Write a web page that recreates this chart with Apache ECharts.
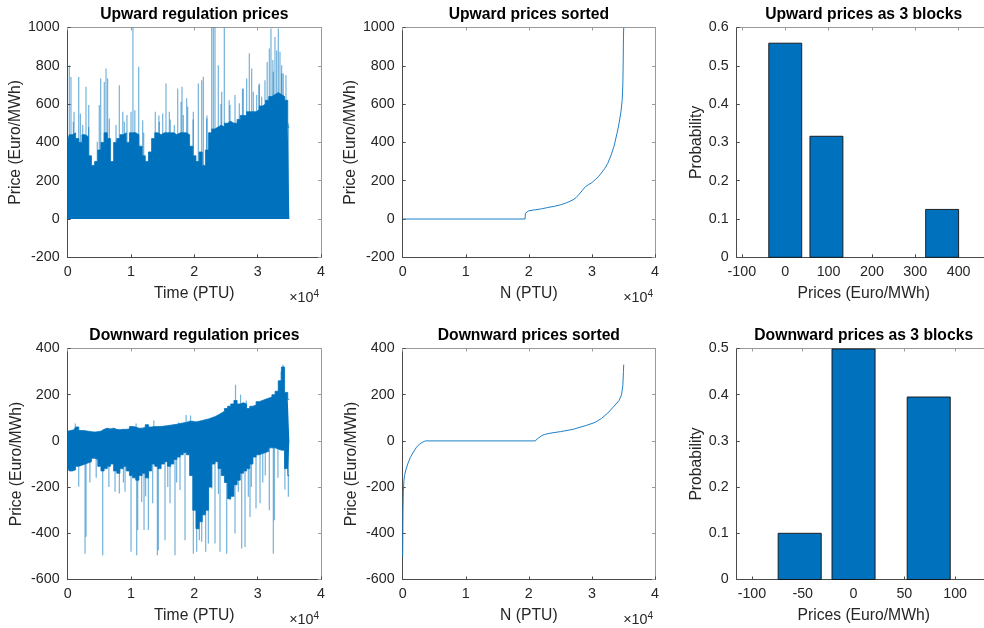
<!DOCTYPE html>
<html>
<head>
<meta charset="utf-8">
<script src="https://cdn.jsdelivr.net/npm/echarts@6/dist/echarts.min.js"></script>
<style>
  html, body { margin: 0; padding: 0; background: #fff; overflow: hidden; }
  #chart { width: 984px; height: 628px; }
</style>
</head>
<body>
<div id="chart"></div>
<script>
// ---------- data ----------
// Dense price series are summarised per 500-PTU bin: the solid band that the
// bulk of the quarter-hour prices fill, plus the isolated spikes above/below it.
const BIN = 500;

// Upward regulation prices (Euro/MWh): top of the dense band per bin
const upBandTop = [410, 440, 450, 420, 400, 440, 430, 330, 280, 300,
                   360, 400, 450, 420, 300, 400, 420, 440, 450, 400,
                   450, 450, 440, 380, 330, 300, 350, 420, 450, 440,
                   450, 450, 450, 450, 440, 450, 450, 450, 440, 380,
                   330, 300, 350, 280, 360, 450, 470, 480, 490, 480,
                   500, 510, 500, 500, 520, 540, 540, 560, 560, 560,
                   570, 590, 600, 620, 640, 650, 660, 650, 640, 620, 480];
// Upward price spikes: PTU index and price
const upSpikeN = [253, 516, 890, 1000, 1737, 2000, 2370, 2890, 3300, 3320,
                  4670, 4990, 5210, 5780, 6050, 6300, 6570, 7630, 8150, 8700,
                  8940, 9360, 10000, 10300, 10600, 11210, 11840, 12000, 13830, 14400,
                  14470, 15000, 15520, 16050, 16200, 16840, 17370, 17900, 18050, 18260,
                  18790, 18950, 19800, 19840, 20630, 21160, 21420, 21950, 22000, 22740,
                  23000, 23260, 23780, 24200, 24320, 24730, 25500, 25630, 26420, 27100,
                  27600, 27730, 28260, 28680, 29050, 29310, 29840, 30200, 30260, 30630,
                  31150, 31500, 31840, 32100, 32400, 32470, 32730, 33000, 33260, 33520,
                  33790, 33800, 34040, 34470, 34840];
const upSpikeV = [803, 742, 508, 560, 742, 551, 491, 690, 480, 595,
                  403, 595, 734, 716, 786, 734, 525, 491, 699, 560,
                  508, 543, 560, 1000, 568, 795, 516, 450, 560, 540,
                  508, 551, 708, 560, 520, 491, 682, 612, 690, 543,
                  630, 586, 520, 560, 708, 725, 743, 525, 540, 1000,
                  1000, 1000, 803, 600, 664, 1000, 620, 595, 647, 604,
                  680, 682, 734, 865, 786, 664, 647, 700, 708, 638,
                  725, 820, 890, 995, 830, 769, 951, 880, 995, 873,
                  803, 760, 760, 751, 499];

// Downward regulation prices (Euro/MWh): upper and lower edge of the dense band per bin
const downBandTop = [42, 45, 48, 60, 45, 44, 42, 40, 38, 40,
                     42, 50, 55, 52, 55, 50, 48, 50, 50, 52,
                     62, 60, 55, 55, 58, 70, 60, 62, 62, 62,
                     64, 66, 68, 70, 72, 75, 78, 80, 85, 85,
                     82, 85, 88, 92, 95, 100, 105, 112, 120, 128,
                     140, 150, 160, 175, 160, 165, 160, 140, 150, 155,
                     170, 175, 180, 185, 190, 200, 215, 260, 320, 210, 180];
const downBandBottom = [-120, -130, -125, -110, -105, -100, -95, -90, -75, -80,
                        -110, -130, -120, -110, -100, -130, -140, -120, -110, -130,
                        -150, -160, -170, -150, -140, -160, -130, -100, -110, -120,
                        -100, -90, -110, -100, -80, -70, -60, -50, -60, -150,
                        -300, -380, -350, -320, -300, -200, -100, -90, -120, -150,
                        -180, -250, -240, -190, -170, -140, -130, -120, -100, -70,
                        -60, -55, -50, -45, -30, -30, -35, -40, -40, -120, -150];
// Downward price spikes: PTU index and price
const downSpikeN = [1737, 2737, 2895, 3500, 4500, 5526, 6500, 7474, 8158, 8800,
                    9053, 10000, 10895, 11053, 11684, 12053, 12300, 12737, 13421, 14158,
                    14316, 15368, 15800, 16158, 16947, 17200, 17737, 18526, 19842, 20368,
                    20789, 21158, 21789, 22210, 22737, 23263, 23800, 24053, 25105, 25632,
                    26421, 26947, 27474, 28000, 28526, 28789, 29000, 29737, 30368, 30800,
                    31200, 31842, 32474, 32632, 33200, 34300, 34842,
                    1200, 10800, 13600, 17500, 18700, 19400, 26500, 27300, 28200, 33700, 34000];
const downSpikeV = [-199, -488, -415, -180, -160, -495, -200, -220, -228, -180,
                    -220, -480, -495, -386, -264, -386, -240, -386, -270, -495,
                    -473, -430, -200, -270, -495, -180, -213, -430, -488, -480,
                    -430, -437, -480, -444, -206, -444, -230, -480, -488, -257,
                    -401, -220, -466, -459, -242, -329, -200, -293, -270, -180,
                    -150, -300, -488, -343, -160, -210, -242,
                    75, 75, 88, 80, 112, 110, 243, 200, 175, 300, 330];

// Prices sorted in ascending order
const upSortedN = [0, 19400, 19450, 19550, 20000, 21000, 22000, 23000, 24000, 25000,
                   26000, 27000, 27500, 28000, 28500, 29000, 29500, 30000, 30500, 31000,
                   31500, 32000, 32500, 33000, 33500, 34000, 34300, 34600, 34800, 34900,
                   34950, 35000, 35040];
const upSortedV = [0, 0, 30, 40, 43, 48, 53, 60, 66, 74,
                   85, 100, 112, 130, 150, 170, 180, 190, 205, 220,
                   240, 262, 290, 330, 380, 450, 500, 560, 620, 700,
                   800, 950, 1000];
const downSortedN = [0, 50, 100, 200, 300, 500, 800, 1200, 1700, 2200,
                     2700, 3200, 3600, 21000, 21500, 22000, 22500, 23500, 25000, 27000,
                     29000, 30500, 31500, 32500, 33500, 34300, 34700, 34900, 35000, 35040];
const downSortedV = [-500, -300, -220, -170, -150, -125, -100, -72, -48, -27,
                     -13, -5, 0, 0, 12, 22, 28, 34, 40, 50,
                     66, 80, 97, 120, 150, 175, 200, 240, 300, 330];

// Prices grouped into 3 blocks: block price and probability
const upBlockPrice = [0, 95, 362];
const upBlockProb = [0.559, 0.316, 0.125];
const downBlockPrice = [-53, 0, 74];
const downBlockProb = [0.1, 0.499, 0.395];

// ---------- styling ----------
const FONT = 'Liberation Sans, Arial, Helvetica, sans-serif';
const BLUE = '#0072BD';
const TXT = '#262626';
const AX_DARK = '#4a4a4a';
const AX_LIGHT = '#9a9a9a';
const TICK_FS = 14.3;
const LABEL_FS = 15.7;

const grids = [
  { left: 67.7, top: 27.5, width: 253.3, height: 229.8 },
  { left: 402.7, top: 27.5, width: 252.3, height: 229.8 },
  { left: 736.7, top: 27.5, width: 254, height: 229.8 },
  { left: 67.7, top: 348.5, width: 253.3, height: 231 },
  { left: 402.7, top: 348.5, width: 252.3, height: 231 },
  { left: 736.7, top: 348.5, width: 254, height: 231 }
];

const titles = ['Upward regulation prices', 'Upward prices sorted', 'Upward prices as 3 blocks',
                'Downward regulation prices', 'Downward prices sorted', 'Downward prices as 3 blocks'];
const xNames = ['Time (PTU)', 'N (PTU)', 'Prices (Euro/MWh)',
                'Time (PTU)', 'N (PTU)', 'Prices (Euro/MWh)'];
const yNames = ['Price (Euro/MWh)', 'Price (Euro/MWh)', 'Probability',
                'Price (Euro/MWh)', 'Price (Euro/MWh)', 'Probability'];

const ptuTicks = { min: 0, max: 40000, interval: 10000, fmt: v => String(v / 10000) };
const xSpecs = [
  ptuTicks, ptuTicks,
  { min: -112, max: 474, custom: [-100, 0, 100, 200, 300, 400], fmt: v => String(v) },
  ptuTicks, ptuTicks,
  { min: -115, max: 135, custom: [-100, -50, 0, 50, 100], fmt: v => String(v) }
];
const yPriceUp = { min: -200, max: 1000, interval: 200, fmt: v => String(v) };
const yPriceDown = { min: -600, max: 400, interval: 200, fmt: v => String(v) };
const ySpecs = [
  yPriceUp, yPriceUp,
  { min: 0, max: 0.6, interval: 0.1, fmt: v => String(Math.round(v * 10) / 10) },
  yPriceDown, yPriceDown,
  { min: 0, max: 0.5, interval: 0.1, fmt: v => String(Math.round(v * 10) / 10) }
];
const yNameGap = [43, 43, 29.5, 43, 43, 29.5];

function axisCommon(spec, gridIndex, position, main) {
  const a = {
    type: 'value', gridIndex, position, min: spec.min, max: spec.max,
    axisLine: { show: true, onZero: false, lineStyle: { color: main ? AX_DARK : AX_LIGHT, width: 1 } },
    axisTick: { show: true, inside: true, length: 3, lineStyle: { color: main ? AX_DARK : AX_LIGHT } },
    axisLabel: { show: main, color: TXT, fontSize: TICK_FS, fontFamily: FONT, formatter: spec.fmt, margin: 8,
                 showMinLabel: true, showMaxLabel: true },
    splitLine: { show: false }
  };
  if (spec.custom) {
    a.axisTick.customValues = spec.custom;
    a.axisLabel.customValues = spec.custom;
  } else {
    a.interval = spec.interval;
  }
  return a;
}

const xAxis = [], yAxis = [];
grids.forEach((g, i) => {
  const xb = axisCommon(xSpecs[i], i, 'bottom', true);
  xb.name = xNames[i];
  xb.nameLocation = 'middle';
  xb.nameGap = 28.5;
  xb.nameTextStyle = { color: TXT, fontSize: LABEL_FS, fontFamily: FONT };
  xAxis.push(xb, axisCommon(xSpecs[i], i, 'top', false));
  const yl = axisCommon(ySpecs[i], i, 'left', true);
  yl.name = yNames[i];
  yl.nameLocation = 'middle';
  yl.nameGap = yNameGap[i];
  yl.nameTextStyle = { color: TXT, fontSize: LABEL_FS, fontFamily: FONT };
  yAxis.push(yl, axisCommon(ySpecs[i], i, 'right', false));
});

// ---------- series ----------
const binned = arr => arr.map((v, i) => [i * BIN, v]);
const pairs = (xs, ys) => xs.map((x, i) => [x, ys[i]]);

function band(panel, values) {
  return {
    type: 'line', xAxisIndex: panel * 2, yAxisIndex: panel * 2,
    data: binned(values), showSymbol: false, silent: true, step: 'middle',
    lineStyle: { width: 0.8, color: BLUE },
    areaStyle: { color: BLUE, opacity: 1 },
    z: 2
  };
}

function spikes(panel, xs, ys) {
  return {
    type: 'custom', xAxisIndex: panel * 2, yAxisIndex: panel * 2,
    data: pairs(xs, ys), silent: true, z: 3,
    renderItem: (params, api) => {
      const a = api.coord([api.value(0), 0]);
      const b = api.coord([api.value(0), api.value(1)]);
      return { type: 'line', shape: { x1: a[0], y1: a[1], x2: b[0], y2: b[1] },
               style: { stroke: 'rgba(0,114,189,0.55)', lineWidth: 1.2 } };
    }
  };
}

function sorted(panel, xs, ys) {
  return {
    type: 'line', xAxisIndex: panel * 2, yAxisIndex: panel * 2,
    data: pairs(xs, ys), showSymbol: false, silent: true,
    lineStyle: { width: 1, color: '#1f80c8' }
  };
}

function blocks(panel, xs, ys) {
  let gap = Infinity;
  for (let i = 1; i < xs.length; i++) gap = Math.min(gap, xs[i] - xs[i - 1]);
  const half = 0.4 * gap;
  return {
    type: 'custom', xAxisIndex: panel * 2, yAxisIndex: panel * 2,
    data: pairs(xs, ys), silent: true,
    renderItem: (params, api) => {
      const p0 = api.coord([api.value(0) - half, api.value(1)]);
      const p1 = api.coord([api.value(0) + half, 0]);
      return { type: 'rect',
               shape: { x: p0[0], y: p0[1], width: p1[0] - p0[0], height: p1[1] - p0[1] },
               style: { fill: BLUE, stroke: '#111', lineWidth: 0.9 } };
    }
  };
}

const series = [
  band(0, upBandTop),
  spikes(0, upSpikeN, upSpikeV),
  sorted(1, upSortedN, upSortedV),
  blocks(2, upBlockPrice, upBlockProb),
  band(3, downBandTop),
  band(3, downBandBottom),
  spikes(3, downSpikeN, downSpikeV),
  sorted(4, downSortedN, downSortedV),
  blocks(5, downBlockPrice, downBlockProb)
];

// ---------- titles and exponent labels ----------
const graphic = [];
grids.forEach((g, i) => {
  graphic.push({
    type: 'text', silent: true,
    style: { text: titles[i], x: g.left + g.width / 2, y: g.top - 12.5,
             align: 'center', verticalAlign: 'middle',
             font: 'bold ' + LABEL_FS + 'px ' + FONT, fill: '#000' }
  });
  if (xSpecs[i] === ptuTicks) {
    graphic.push({
      type: 'text', silent: true,
      style: { text: '{a|×10}{b|4}', x: g.left + g.width - 2, y: g.top + g.height + 41,
               align: 'right', verticalAlign: 'middle',
               rich: { a: { fontSize: TICK_FS, fontFamily: FONT, fill: TXT, color: TXT },
                       b: { fontSize: 10, fontFamily: FONT, fill: TXT, color: TXT, verticalAlign: 'top', padding: [0, 0, 8, 0] } } }
    });
  }
});

const chart = echarts.init(document.getElementById('chart'), null, { renderer: 'canvas' });
chart.setOption({
  animation: false,
  backgroundColor: '#fff',
  grid: grids.map(g => Object.assign({ containLabel: false, outerBoundsMode: 'none' }, g)),
  xAxis, yAxis, series, graphic
});
</script>
</body>
</html>
